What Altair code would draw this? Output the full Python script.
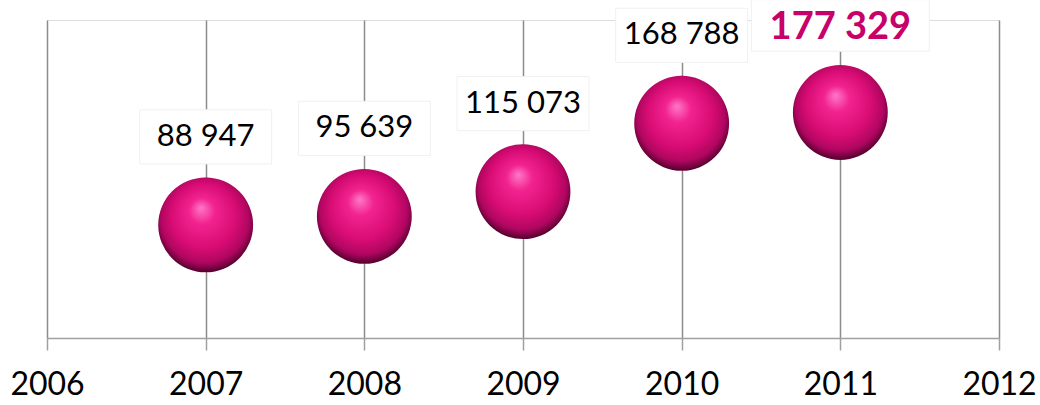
import altair as alt
import pandas as pd

years = [2007, 2008, 2009, 2010, 2011]
values = [88947, 95639, 115073, 168788, 177329]
labels = ["88 947", "95 639", "115 073", "168 788", "177 329"]
highlight = [False, False, False, False, True]
axis_years = [2006, 2007, 2008, 2009, 2010, 2011, 2012]

df = pd.DataFrame({"year": years, "value": values, "label": labels, "hl": highlight})

FONT = "Lato"

x = alt.X("year:Q", scale=alt.Scale(domain=[2006, 2012], nice=False, zero=False),
          axis=alt.Axis(values=axis_years, format="d", title=None, grid=True,
                        gridColor="#8c8c8c", gridWidth=1.5,
                        domainColor="#a0a0a0", domainWidth=1.5,
                        tickColor="#a0a0a0", tickWidth=1.5, tickSize=12,
                        labelFont=FONT, labelFontSize=32, labelColor="#000000",
                        labelPadding=19, labelFlush=False))
y = alt.Y("value:Q", scale=alt.Scale(domain=[0, 250000], nice=False), axis=None)

base = alt.Chart(df).encode(x=x, y=y)

box_small = base.transform_filter("!datum.hl").mark_point(
    shape="M-1,-0.41L1,-0.41L1,0.41L-1,0.41Z", size=132 * 132, filled=True,
    fill="#ffffff", stroke="#f0f0f0", strokeWidth=1, opacity=1, yOffset=-88)
box_big = base.transform_filter("datum.hl").mark_point(
    shape="M-1,-0.29L1,-0.29L1,0.29L-1,0.29Z", size=178 * 178, filled=True,
    fill="#ffffff", stroke="#f0f0f0", strokeWidth=1, opacity=1, yOffset=-87)

txt = base.transform_filter("!datum.hl").mark_text(
    font=FONT, fontSize=31, color="#000000", baseline="middle", dy=-88
).encode(text="label:N")
txt_hl = base.transform_filter("datum.hl").mark_text(
    font=FONT, fontSize=38, fontWeight="bold", color="#c8006a", baseline="middle", dy=-84
).encode(text="label:N")

grad = alt.RadialGradient(
    gradient="radial",
    stops=[
        alt.GradientStop(color="#ff78c8", offset=0),
        alt.GradientStop(color="#f2238f", offset=0.25),
        alt.GradientStop(color="#d80c74", offset=0.62),
        alt.GradientStop(color="#b00660", offset=0.84),
        alt.GradientStop(color="#4a0028", offset=1),
    ],
    x1=0.45, y1=0.32, r1=0, x2=0.5, y2=0.46, r2=0.55,
)
bubbles = base.mark_point(shape="circle", filled=True, fill=grad, size=9000,
                          opacity=1, strokeWidth=0)

chart = alt.layer(box_small, box_big, txt, txt_hl, bubbles).properties(
    width=952, height=318,
    padding={"left": 47, "top": 20, "right": 41, "bottom": 67},
    autosize="none",
).configure_view(stroke=None).configure(background="#ffffff")

chart.save("out.html", embed_options={"renderer": "svg", "actions": False})
